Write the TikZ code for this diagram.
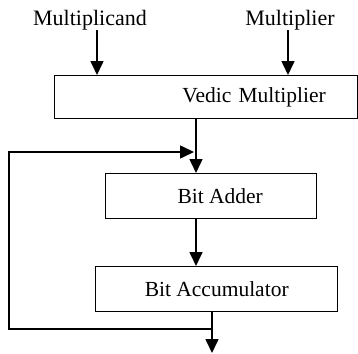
\documentclass[tikz,border=0pt]{standalone}
\usepackage{fontspec}
\setmainfont{Liberation Serif}
\usetikzlibrary{arrows.meta,calc}
\begin{document}
\begin{tikzpicture}[x=1pt,y=-1pt,
  blk/.style={draw,line width=1.4pt,rectangle,inner sep=0pt,font=\fontsize{21.5}{25}\selectfont},
  lbl/.style={inner sep=0pt,font=\fontsize{22}{25}\selectfont},
  wire/.style={line width=1.6pt},
  arr/.style={wire,-{Triangle[width=13pt,length=14pt]}}]
\useasboundingbox (0,0) rectangle (358,353);
\node[lbl] (mcand) at (90,20) {Multiplicand};
\node[lbl] (mplier) at (290,20) {Multiplier};
\node[blk,anchor=north west,minimum height=43pt,text width=239pt,inner xsep=32pt,align=right] (vedic) at (54,75) {Vedic Multiplier};
\node[blk,anchor=north west,minimum width=211pt,minimum height=45pt] (adder) at (105,173) {\hspace*{18pt}Bit Adder};
\node[blk,anchor=north west,minimum width=242pt,minimum height=45pt] (acc) at (95,266) {Bit Accumulator};
\coordinate (j) at (196,152);
\coordinate (fb) at (212,329);
\coordinate (out) at (212,353);
\draw[arr] ([xshift=7pt]mcand.south) -- ([xshift=7pt]mcand.south |- vedic.north);
\draw[arr] ([xshift=-2pt]mplier.south) -- ([xshift=-2pt]mplier.south |- vedic.north);
\draw[arr] (vedic.south -| j) -- (adder.north -| j);
\draw[arr] (adder.south -| j) -- (acc.north -| j);
\draw[arr] (acc.south -| fb) -- (out);
\draw[arr,shorten >=2pt] (fb) -- (9,329) |- (j);
\end{tikzpicture}
\end{document}
